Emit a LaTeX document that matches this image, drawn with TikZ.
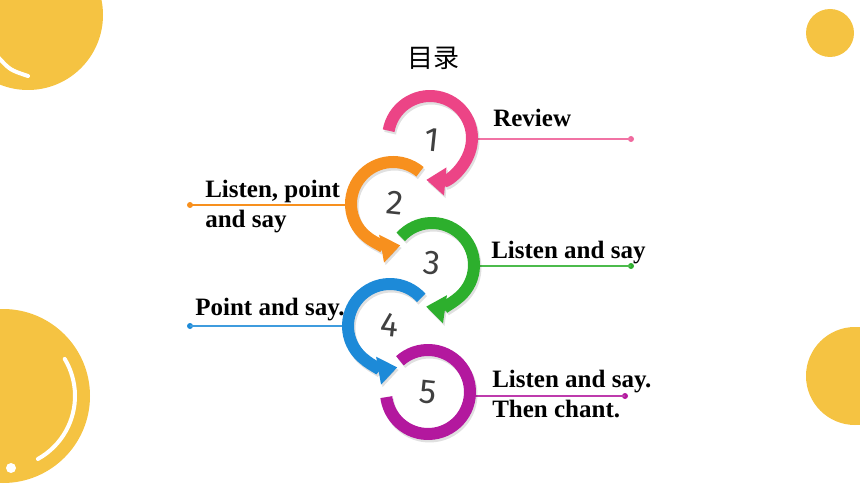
\documentclass[tikz,border=0pt]{standalone}
\usepackage{fontspec}
\setmainfont{Liberation Serif}
\newfontfamily\cjk{Noto Sans CJK SC}
\newfontfamily\numfont{Fira Sans}
\usepackage{tikz}
\usetikzlibrary{arrows.meta}
\usetikzlibrary{calc}
\usetikzlibrary{positioning}

\definecolor{sunny}{HTML}{F5C342}
\definecolor{rosy}{HTML}{EC4486}
\definecolor{tangerine}{HTML}{F7901E}
\definecolor{leaf}{HTML}{2DAF2D}
\definecolor{sky}{HTML}{1D8AD8}
\definecolor{plum}{HTML}{B3189E}

\begin{document}
\begin{tikzpicture}[x=1pt,y=-1pt,>={Triangle[width=27pt,length=19pt]},semithick]
 				 \tikzstyle{ring}=[line width=12pt]
 				 \tikzstyle{shade}=[ring,black,opacity=0.12,transform canvas={shift={(1.5pt,-2.5pt)}}]
 				 \tikzstyle{lead}=[line width=1.3pt]
 				 \tikzstyle{dot}=[circle,inner sep=0pt,minimum size=6pt]
 				 \tikzstyle{item}=[font=\bfseries\fontsize{25}{30}\selectfont,inner sep=0pt,align=left]
 				 \tikzstyle{num}=[font=\numfont\fontsize{34}{34}\selectfont,text=black!75,rotate=-6]
				\useasboundingbox (0,0) rectangle (860,484);
				\clip (0,0) rectangle (860,484);
				% background bubbles
				\fill[sunny] (28,15) circle[radius=75];
				\draw[white,line width=4pt,line cap=round] (-2,57) .. controls (10,70) .. (28,76);
				\fill[sunny] (830,33) circle[radius=24];
				\fill[sunny] (3,396) circle[radius=87];
				\draw[white,line width=4pt,line cap=round] ($(3,396)+(-31:72)$) arc[start angle=-31,end angle=61,radius=72];
				\fill[white] (11,468) circle[radius=5];
				\fill[sunny] (855,376) circle[radius=49];
				% title
 					 \node[font=\cjk\fontsize{26}{26}\selectfont] (title) at (433,58) {目录};
				% ring centres, edges and dots
 					 \coordinate (c1) at (430,138);
 					 \coordinate (c2) at (393,204);
 					 \coordinate (c3) at (432,265);
 					 \coordinate (c4) at (390,326);
 					 \coordinate (c5) at (428,392);
 					 \coordinate (e1) at (474,139);
 					 \coordinate (e2) at (349,205);
 					 \coordinate (e3) at (476,266);
 					 \coordinate (e4) at (346,326);
 					 \coordinate (e5) at (472,396);
 					 \node[dot,fill=rosy!80] 		(d1) at (631,139) {};
 					 \node[dot,fill=tangerine] 	(d2) at (190,205) {};
 					 \node[dot,fill=leaf] 		(d3) at (631,266) {};
 					 \node[dot,fill=sky] 		(d4) at (190,326) {};
 					 \node[dot,fill=plum] 		(d5) at (625,396) {};
				\path[lead]
				(e1) edge[rosy!75] (d1.center)
				(d2.center) edge[tangerine] (e2)
				(e3) edge[leaf!85] (d3.center)
				(d4.center) edge[sky!85] (e4)
				(e5) edge[plum!85] (d5.center);
				% rings
				\draw[shade,->] ($(c1)+(190:42)$) arc[start angle=190,end angle=455,radius=42];
				\draw[ring,rosy,->] ($(c1)+(190:42)$) arc[start angle=190,end angle=455,radius=42];
				\draw[shade,->] ($(c2)+(310:42)$) arc[start angle=310,end angle=80,radius=42];
				\draw[ring,tangerine,->] ($(c2)+(310:42)$) arc[start angle=310,end angle=80,radius=42];
				\draw[shade,->] ($(c3)+(222:42)$) arc[start angle=222,end angle=458,radius=42];
				\draw[ring,leaf,->] ($(c3)+(222:42)$) arc[start angle=222,end angle=458,radius=42];
				\draw[shade,->] ($(c4)+(318:42)$) arc[start angle=318,end angle=80,radius=42];
				\draw[ring,sky,->] ($(c4)+(318:42)$) arc[start angle=318,end angle=80,radius=42];
				\draw[shade] ($(c5)+(228:42)$) arc[start angle=228,end angle=533,radius=42];
				\draw[ring,plum] ($(c5)+(228:42)$) arc[start angle=228,end angle=533,radius=42];
				% numbers
 					 \node[num] (n1) at (432,140) {1};
 					 \node[num] (n2) at (395,203) {2};
 					 \node[num] (n3) at (432,263) {3};
 					 \node[num] (n4) at (390,325) {4};
 					 \node[num] (n5) at (428,392) {5};
				% labels
 					 \node[item,anchor=base west] (l1) at (493,127) {Review};
 					 \node[item,anchor=north west] (l2) at (205,180) {Listen, point\\and say};
 					 \node[item,anchor=base west] (l3) at (491,258) {Listen and say};
 					 \node[item,anchor=base west] (l4) at (195,315) {Point and say.};
 					 \node[item,anchor=north west] (l5) at (492,370) {Listen and say.\\Then chant.};
\end{tikzpicture}
\end{document}
